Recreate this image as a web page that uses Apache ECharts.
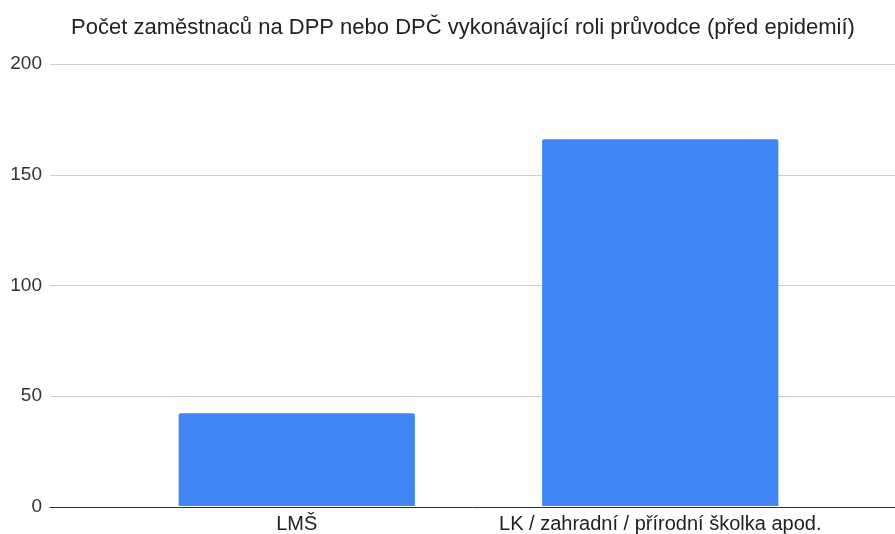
<!DOCTYPE html>
<html>
<head>
<meta charset="utf-8">
<script src="https://cdn.jsdelivr.net/npm/echarts@6/dist/echarts.min.js"></script>
<style>
  html, body { margin: 0; padding: 0; background: #fff; }
  #chart { width: 895px; height: 534px; }
</style>
</head>
<body>
<div id="chart"></div>
<script>
// data
const categories = ["LMŠ", "LK / zahradní / přírodní školka apod."];
const values = [42, 166];
const yTicks = [0, 50, 100, 150, 200];

const font = "'Liberation Sans', Arial, sans-serif";
const myChart = echarts.init(document.getElementById("chart"));

const option = {
  animation: false,
  textStyle: { fontFamily: font },
  title: {
    text: "Počet zaměstnaců na DPP nebo DPČ vykonávající roli průvodce (před epidemií)",
    left: 458,
    textAlign: "center",
    top: 12,
    textStyle: { fontFamily: font, fontSize: 22, fontWeight: "normal", color: "#222" }
  },
  grid: [
    // background grid: gridlines + axis labels across the full width
    { left: 50, right: 0, top: 64, bottom: 27 },
    // bar grid
    { left: 115, right: 53, top: 64, bottom: 27 }
  ],
  xAxis: [
    {
      gridIndex: 0,
      type: "category",
      data: [""],
      axisLine: { lineStyle: { color: "#333", width: 1 } },
      axisTick: { show: false },
      axisLabel: { show: false }
    },
    {
      gridIndex: 1,
      type: "category",
      data: categories,
      axisLine: { show: false },
      axisTick: { show: false },
      axisLabel: { fontSize: 20, color: "#222", margin: 8, interval: 0, hideOverlap: false }
    }
  ],
  yAxis: [
    {
      gridIndex: 0,
      type: "value",
      min: yTicks[0],
      max: yTicks[yTicks.length - 1],
      interval: 50,
      axisLine: { show: false },
      axisTick: { show: false },
      axisLabel: { fontSize: 19, color: "#333", margin: 8 },
      splitLine: { lineStyle: { color: "#cccccc", width: 1 } }
    },
    {
      gridIndex: 1,
      type: "value",
      min: yTicks[0],
      max: yTicks[yTicks.length - 1],
      interval: 50,
      show: false,
      splitLine: { show: false }
    }
  ],
  series: [
    {
      type: "bar",
      xAxisIndex: 1,
      yAxisIndex: 1,
      data: values,
      barWidth: "65%",
      itemStyle: { color: "#4285f4", borderRadius: [2, 2, 0, 0] }
    }
  ]
};

myChart.setOption(option);
</script>
</body>
</html>
